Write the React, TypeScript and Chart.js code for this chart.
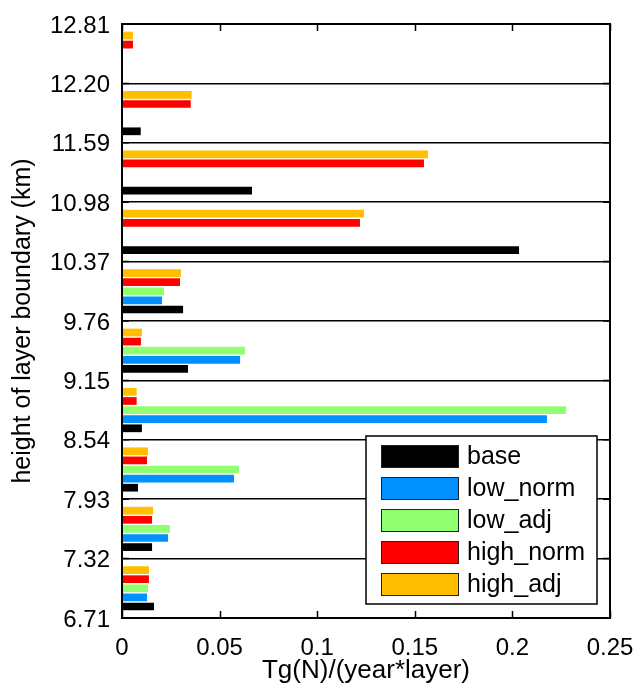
import React, { useEffect, useRef } from 'react';
import { Chart, registerables } from 'chart.js';

Chart.register(...registerables);

// Layers from bottom (6.71-7.32 km) to top (12.20-12.81 km)
const layers = [
  '6.71-7.32', '7.32-7.93', '7.93-8.54', '8.54-9.15', '9.15-9.76',
  '9.76-10.37', '10.37-10.98', '10.98-11.59', '11.59-12.20', '12.20-12.81',
];
const boundaryLabels = [
  '6.71', '7.32', '7.93', '8.54', '9.15', '9.76', '10.37', '10.98', '11.59', '12.20', '12.81',
];

const seriesNames = ['base', 'low_norm', 'low_adj', 'high_norm', 'high_adj'];
const seriesColors = ['#000000', '#0090FF', '#90FF70', '#FF0000', '#FFBF00'];

const base = [0.0164, 0.0154, 0.0082, 0.0102, 0.0338, 0.0313, 0.2034, 0.0666, 0.0096, 0];
const lowNorm = [0.0128, 0.0236, 0.0574, 0.2177, 0.0605, 0.0205, 0, 0, 0, 0];
const lowAdj = [0.0133, 0.0246, 0.0599, 0.2275, 0.0630, 0.0215, 0, 0, 0, 0];
const highNorm = [0.0138, 0.0154, 0.0128, 0.0075, 0.0097, 0.0297, 0.1219, 0.1547, 0.0352, 0.0056];
const highAdj = [0.0138, 0.0159, 0.0133, 0.0075, 0.0102, 0.0302, 0.1240, 0.1568, 0.0357, 0.0056];

const seriesValues = [base, lowNorm, lowAdj, highNorm, highAdj];

const xMin = 0;
const xMax = 0.25;
const xStep = 0.05;

const FONT = '"Liberation Sans", Arial, Helvetica, sans-serif';

const framePlugin = {
  id: 'matlabFrame',
  afterDraw(chart: any) {
    const { ctx, chartArea: a, scales } = chart;
    ctx.save();
    // tick marks (inward)
    ctx.strokeStyle = '#000';
    ctx.lineWidth = 1.5;
    const xs = scales.x;
    xs.ticks.forEach((t: any) => {
      const px = Math.round(xs.getPixelForValue(t.value)) + 0.5;
      ctx.beginPath();
      ctx.moveTo(px, a.bottom);
      ctx.lineTo(px, a.bottom - 7);
      ctx.moveTo(px, a.top);
      ctx.lineTo(px, a.top + 7);
      ctx.stroke();
    });
    const ys = scales.yb;
    ys.ticks.forEach((t: any) => {
      const py = ys.getPixelForValue(t.value);
      ctx.beginPath();
      ctx.moveTo(a.right, py);
      ctx.lineTo(a.right - 7, py);
      ctx.moveTo(a.left, py);
      ctx.lineTo(a.left + 7, py);
      ctx.stroke();
    });

    // legend
    const w = 231;
    const h = 168;
    const right = a.right - 13;
    const bottom = a.bottom - 14;
    const left = right - w;
    const top = bottom - h;
    ctx.fillStyle = '#fff';
    ctx.fillRect(left, top, w, h);
    ctx.lineWidth = 1.5;
    ctx.strokeStyle = '#000';
    ctx.strokeRect(left, top, w, h);
    ctx.font = `25px ${FONT}`;
    ctx.textBaseline = 'middle';
    ctx.textAlign = 'left';
    seriesNames.forEach((name, i) => {
      const sy = top + 9 + i * 32;
      ctx.fillStyle = seriesColors[i];
      ctx.fillRect(left + 15, sy, 78, 23);
      ctx.lineWidth = 1;
      ctx.strokeStyle = '#222';
      ctx.strokeRect(left + 15.5, sy + 0.5, 77, 22);
      ctx.fillStyle = '#000';
      ctx.fillText(name, left + 101, sy + 12.5);
    });

    // axes box
    ctx.lineWidth = 2;
    ctx.strokeStyle = '#000';
    ctx.strokeRect(a.left, a.top, a.right - a.left, a.bottom - a.top);
    ctx.restore();
  },
};

export default function App() {
  const canvasRef = useRef<HTMLCanvasElement | null>(null);

  useEffect(() => {
    const canvas = canvasRef.current;
    if (!canvas) return;
    // top-to-bottom order within each group: high_adj, high_norm, low_adj, low_norm, base
    const order = [4, 3, 2, 1, 0];
    const datasets = order.map((i) => ({
      label: seriesNames[i],
      data: seriesValues[i],
      backgroundColor: seriesColors[i],
      borderWidth: 0,
      categoryPercentage: 0.766,
      barPercentage: 0.85,
      xAxisID: 'x',
      yAxisID: 'y',
    }));

    const chart = new Chart(canvas, {
      type: 'bar',
      data: { labels: layers, datasets },
      plugins: [framePlugin],
      options: {
        indexAxis: 'y',
        animation: false,
        responsive: false,
        maintainAspectRatio: false,
        layout: { padding: { top: 24, right: 26, bottom: 0, left: 0 } },
        plugins: {
          legend: { display: false },
          tooltip: { enabled: false },
          title: { display: false },
        },
        scales: {
          x: {
            type: 'linear',
            position: 'bottom',
            min: xMin,
            max: xMax,
            grid: { display: false },
            border: { display: false },
            ticks: {
              stepSize: xStep,
              padding: 8,
              color: '#000',
              font: { family: FONT, size: 24 },
              maxRotation: 0,
              callback: (v: any) => String(Number(Number(v).toFixed(2))),
            },
            title: {
              display: true,
              text: 'Tg(N)/(year*layer)',
              color: '#000',
              font: { family: FONT, size: 26, lineHeight: 1 },
              padding: { top: 0, bottom: 0 },
            },
            afterFit: (s: any) => {
              s.height = 66;
              s.paddingLeft = 0;
              s.paddingRight = 0;
            },
          },
          y: {
            type: 'category',
            labels: layers,
            reverse: true,
            display: false,
            offset: true,
            grid: { display: false },
          },
          yb: {
            type: 'linear',
            axis: 'y',
            position: 'left',
            min: 0,
            max: 10,
            offset: false,
            grid: { color: '#000', lineWidth: 1.5, drawTicks: false, offset: false },
            border: { display: false },
            ticks: {
              stepSize: 1,
              padding: 12,
              labelOffset: 2,
              color: '#000',
              autoSkip: false,
              font: { family: FONT, size: 24 },
              callback: (v: any) => boundaryLabels[Math.round(Number(v))] ?? '',
            },
            title: {
              display: true,
              text: 'height of layer boundary (km)',
              color: '#000',
              font: { family: FONT, size: 25 },
              padding: { top: 8, bottom: 0 },
            },
            afterFit: (s: any) => {
              s.width = 122;
              s.paddingTop = 0;
              s.paddingBottom = 0;
            },
          },
        },
      } as any,
    });

    return () => {
      chart.destroy();
    };
  }, []);

  return (
    <div style={{ position: 'absolute', left: 0, top: 0, width: 636, height: 684, background: '#fff' }}>
      <canvas ref={canvasRef} width={636} height={684} style={{ display: 'block' }} />
    </div>
  );
}
